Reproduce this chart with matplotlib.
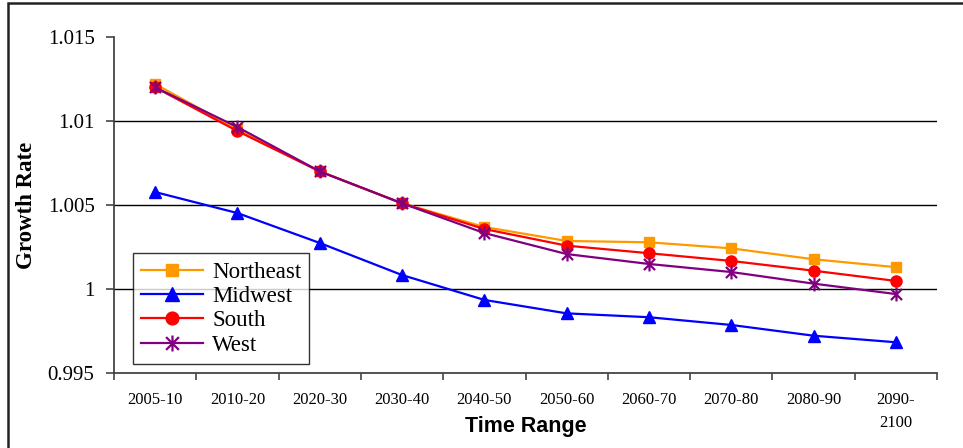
import matplotlib
matplotlib.use("Agg")
import matplotlib.pyplot as plt
from matplotlib.path import Path
from matplotlib.patches import Rectangle

periods = ["2005-10", "2010-20", "2020-30", "2030-40", "2040-50",
           "2050-60", "2060-70", "2070-80", "2080-90", "2090-\n2100"]
northeast = [1.0122, 1.0095, 1.0070, 1.0051, 1.00369,
             1.00286, 1.00278, 1.00242, 1.00177, 1.00130]
midwest = [1.00577, 1.00452, 1.00274, 1.00083, 0.99935,
           0.99855, 0.99832, 0.99786, 0.99722, 0.99683]
south = [1.0120, 1.0094, 1.0070, 1.0051, 1.00357,
         1.00258, 1.00213, 1.00167, 1.00109, 1.00048]
west = [1.0120, 1.00964, 1.0070, 1.0051, 1.00333,
        1.00208, 1.00149, 1.00101, 1.00032, 0.99970]

y_ticks = [0.995, 1.0, 1.005, 1.01, 1.015]
y_tick_labels = ["0.995", "1", "1.005", "1.01", "1.015"]

# asterisk marker: vertical bar plus an X
star = Path(
    [(0, -1), (0, 1), (-0.8, -0.8), (0.8, 0.8), (-0.8, 0.8), (0.8, -0.8)],
    [Path.MOVETO, Path.LINETO, Path.MOVETO, Path.LINETO, Path.MOVETO, Path.LINETO],
)

serif = "Liberation Serif"
sans = "Liberation Sans"

W, H = 963, 448
fig = plt.figure(figsize=(W / 100, H / 100), dpi=100)
fig.patch.set_facecolor("white")

# outer frame
fig.patches.append(Rectangle((8 / W, -0.05), 1.2, 1.05 - 3 / H,
                             transform=fig.transFigure, fill=False,
                             edgecolor="#222222", linewidth=1.8))

ax = fig.add_axes([114 / W, 1 - 373 / H, (937 - 114) / W, (373 - 37) / H])

x = list(range(len(periods)))
ax.plot(x, northeast, color="#FF9900", lw=1.6, marker="s", ms=7.5,
        mec="#FF9900", mfc="#FF9900", label="Northeast", zorder=3)
ax.plot(x, midwest, color="#0000FF", lw=1.6, marker="^", ms=9,
        mec="#0000FF", mfc="#0000FF", label="Midwest", zorder=3)
ax.plot(x, south, color="#FF0000", lw=1.6, marker="o", ms=8,
        mec="#FF0000", mfc="#FF0000", label="South", zorder=4)
ax.plot(x, west, color="#800080", lw=1.6, marker=star, ms=10,
        mec="#800080", mew=1.6, label="West", zorder=5)

ax.set_xlim(-0.5, len(periods) - 0.5)
ax.set_ylim(0.995, 1.015)

ax.set_yticks(y_ticks)
ax.set_yticklabels(y_tick_labels, fontfamily=serif, fontsize=15)
ax.set_xticks(x)
ax.set_xticklabels(periods, fontfamily=serif, fontsize=12, linespacing=1.55)
ax.set_xticks([i - 0.5 for i in range(len(periods) + 1)], minor=True)
ax.tick_params(axis="x", which="major", length=0, pad=14)
ax.tick_params(axis="x", which="minor", length=5, width=1.2, color="#444444")
ax.tick_params(axis="y", length=6, width=1.2, color="#444444", pad=8)

for v in [1.0, 1.005, 1.01]:
    ax.axhline(v, color="black", lw=1.0, zorder=1)

for side in ("top", "right"):
    ax.spines[side].set_visible(False)
for side in ("left", "bottom"):
    ax.spines[side].set_color("#444444")
    ax.spines[side].set_linewidth(1.3)

fig.text(27 / W, 1 - 205 / H, "Growth Rate", fontfamily=serif, fontsize=16.5,
         fontweight="bold", rotation=90, ha="center", va="center")
fig.text(525.5 / W, 1 - 426 / H, "Time Range", fontfamily=sans,
         fontsize=15.5, fontweight="bold", ha="center", va="center")

leg = ax.legend(loc="lower left", bbox_to_anchor=(0.0231, 0.0268),
                borderaxespad=0, frameon=True, fancybox=False,
                prop={"family": serif, "size": 16.5}, handlelength=2.7,
                labelspacing=0.15, borderpad=0.35, handletextpad=0.4,
                markerscale=1.15)
leg.get_frame().set_edgecolor("black")
leg.get_frame().set_linewidth(1.0)

fig.savefig("out.png", dpi=100, facecolor="white")
